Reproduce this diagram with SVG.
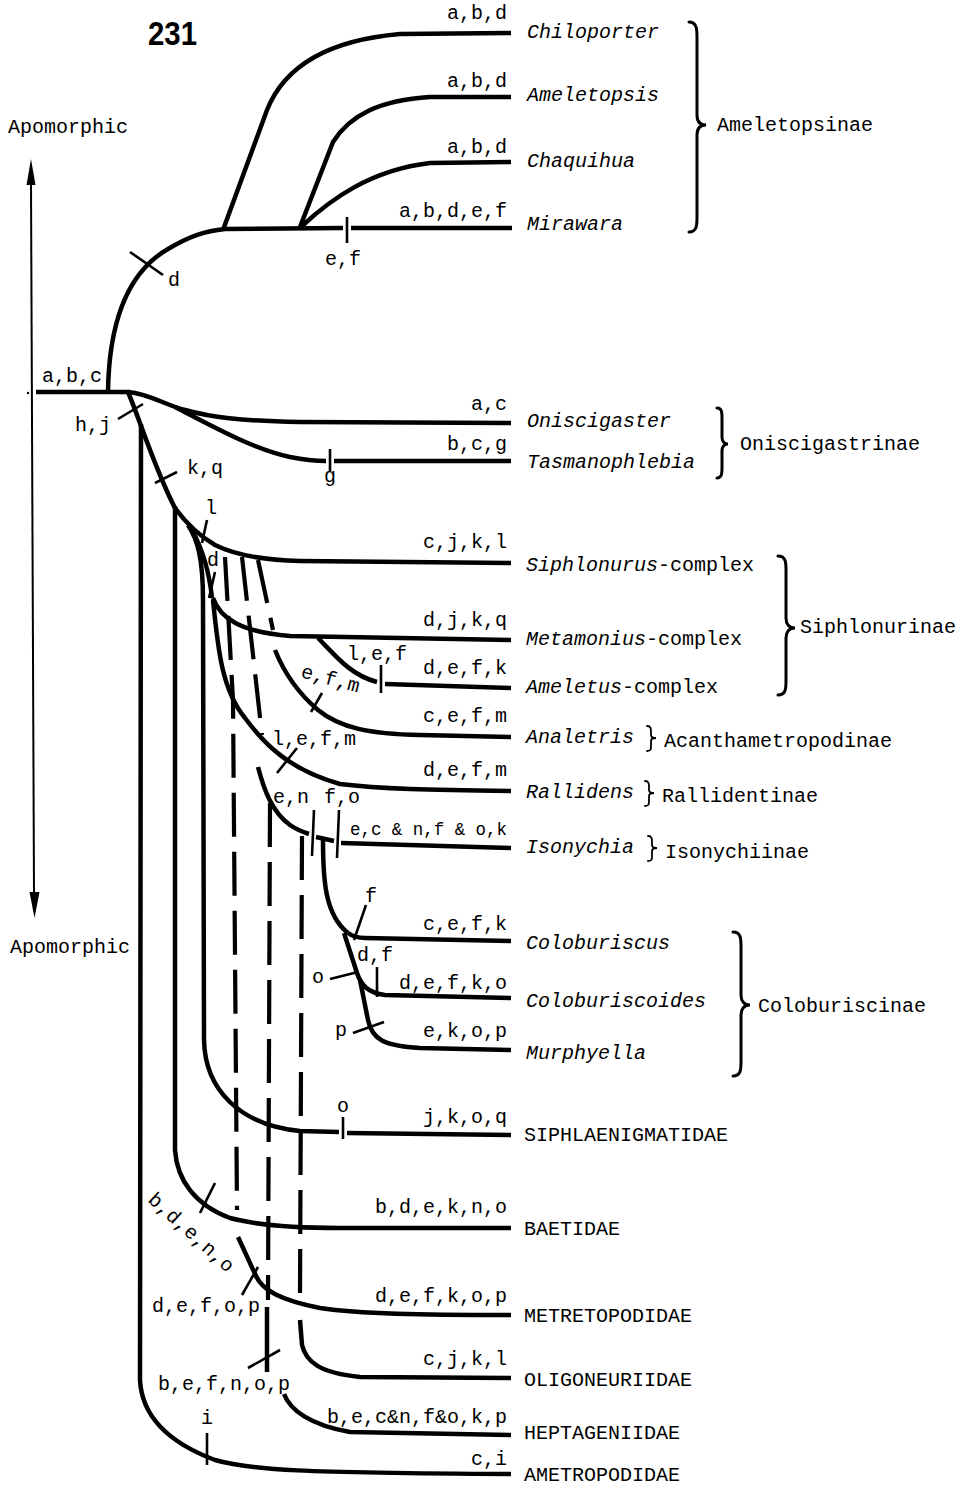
<svg xmlns="http://www.w3.org/2000/svg" width="968" height="1487" viewBox="0 0 968 1487">
<style>
text{font-family:"Liberation Mono","DejaVu Sans Mono",monospace;font-size:20px;fill:#000}
.it{font-style:italic}
.ch{text-anchor:end}
.mid{text-anchor:middle}
.br{fill:none;stroke:#000;stroke-width:3;stroke-linecap:round}
.brs{fill:none;stroke:#000;stroke-width:1.8;stroke-linecap:round}
.ln{fill:none;stroke:#000;stroke-width:4.5;stroke-linecap:butt}
.ds{fill:none;stroke:#000;stroke-width:4.2;stroke-dasharray:44 15}
.tk{fill:none;stroke:#000;stroke-width:2.6}
</style>
<rect width="968" height="1487" fill="#fff"/>

<g id="title">
<text x="148" y="45" style="font-family:'Liberation Sans',Arial,sans-serif;font-weight:bold;font-size:34px" textLength="49" lengthAdjust="spacingAndGlyphs">231</text>
</g>

<g id="axis">
<line x1="31" y1="183" x2="34" y2="893" stroke="#000" stroke-width="2"/>
<path d="M31,159 L26.5,185 L35.5,185 Z" fill="#000"/>
<path d="M34.5,918 L29.5,892 L39.5,892 Z" fill="#000"/>
<text x="8" y="133">Apomorphic</text>
<text x="10" y="953">Apomorphic</text>
</g>

<g id="connectors">
<circle cx="28" cy="393" r="1.2" fill="#000"/>
<path class="ln" d="M36,392 L130,392"/>
<!-- Ameletopsinae -->
<path class="ln" d="M108,392 C109,320 128,272 168,249 C190,236 205,231 225,229 L343,228 M351,228 L512,228"/>
<path class="ln" d="M223,230 L267,110 C285,65 330,40 400,34 L511,33"/>
<path class="ln" d="M300,227 L333,142 C350,115 380,100 430,97 L511,97"/>
<path class="ln" d="M302,226 C330,200 370,170 430,163 L511,162"/>
<path class="tk" d="M130,252 L163,275"/>
<path class="tk" d="M347,217 L347,243"/>
<!-- Oniscigastrinae -->
<path class="ln" d="M128,392 C150,394 165,405 185,410 C210,417 240,421 300,422 L511,423"/>
<path class="ln" d="M175,407 C210,425 250,448 290,457 C305,460 315,461 326,461 M334,461 L511,461"/>
<path class="tk" d="M330,449 L330,472"/>
<!-- main diagonal -->
<path class="ln" d="M128,392 C140,420 155,470 176,510"/>
<path class="tk" d="M118,419 L143,404"/>
<path class="tk" d="M155,483 L177,472"/>
<!-- AMETROPODIDAE -->
<path class="ln" d="M141,424 L140,1380 C142,1420 175,1445 215,1460 C250,1470 300,1473 511,1474"/>
<path class="tk" d="M207,1433 L207,1465"/>
<!-- BAETIDAE -->
<path class="ln" d="M175,506 L175,1150 C177,1180 195,1205 230,1218 C260,1226 300,1228 340,1228 L511,1228"/>
<path class="tk" d="M215,1183 L200,1213"/>
<!-- Siphlonurus -->
<path class="ln" d="M175,508 C185,522 198,535 215,545 C235,555 260,560 300,561 L511,563"/>
<path class="tk" d="M207,520 L202,543"/>
<!-- SIPHLAENIGMATIDAE -->
<path class="ln" d="M188,525 C198,540 203,560 203,600 L204,1040 C205,1090 240,1125 300,1131 L339,1132 M347,1133 L511,1135"/>
<path class="tk" d="M343,1117 L343,1139"/>
<!-- d branch -->
<path class="ln" d="M192,530 C203,550 209,570 212,598"/>
<path class="tk" d="M215,572 L209,598"/>
<!-- Metamonius -->
<path class="ln" d="M213,598 C220,618 240,632 290,636 L511,640"/>
<!-- Ameletus -->
<path class="ln" d="M318,638 C335,655 350,675 377,682 M385,684 L511,688"/>
<path class="tk" d="M381,665 L381,693"/>
<!-- Rallidens -->
<path class="ln" d="M213,600 C218,650 222,690 245,718 C265,745 290,770 340,784 C380,789 430,790 511,791"/>
<path class="tk" d="M297,748 L277,773"/>
<!-- dashed from Siphlonurus line -->
<path class="ds" d="M225,557 L233,700 L237,1210"/>
<path class="ds" d="M242,557 L262,735"/>
<path class="ds" d="M258,560 L273,630"/>
<!-- Analetris -->
<path class="ln" d="M275,650 C285,675 298,693 318,710 C340,728 370,734 420,735 L511,737"/>
<path class="tk" d="M322,693 L311,712"/>
<!-- Isonychia -->
<path class="ln" d="M258,767 C264,790 272,812 290,825 C297,830 303,832 309,834 M316,837 L334,841 M341,843 L511,848"/>
<path class="tk" d="M314,810 L312,856"/>
<path class="tk" d="M339,810 L337,858"/>
<!-- lower dashed lines -->
<path class="ds" d="M270,803 L268,1300"/>
<path class="ln" d="M267,1307 L267,1372"/>
<path class="ln" d="M284,1394 C290,1410 310,1425 350,1432 L511,1435"/>
<path class="tk" d="M280,1350 L248,1368"/>
<path class="ds" d="M302,836 L300,1295"/>
<path class="ln" d="M300,1320 L302,1345 C306,1362 320,1373 360,1377 L511,1378"/>
<!-- METRETOPODIDAE -->
<path class="ln" d="M238,1237 L256,1276 C262,1290 280,1300 320,1308 C360,1314 420,1315 511,1315"/>
<path class="tk" d="M258,1267 L242,1295"/>
<!-- Coloburiscinae -->
<path class="ln" d="M323,840 C323,880 325,915 348,933"/>
<path class="ln" d="M348,933 C352,936 356,938 365,938 L511,941"/>
<path class="tk" d="M366,905 L354,940"/>
<path class="ln" d="M344,933 L357,973 C361,985 368,993 385,995 L511,998"/>
<path class="tk" d="M330,979 L358,972"/>
<path class="tk" d="M377,967 L377,997"/>
<path class="ln" d="M360,980 L368,1020 C372,1040 385,1046 420,1048 L511,1050"/>
<path class="tk" d="M353,1033 L384,1022"/>
</g>

<g id="tick-labels">
<text x="42" y="382">a,b,c</text>
<text x="75" y="431">h,j</text>
<text x="168" y="286">d</text>
<text class="mid" x="343" y="265">e,f</text>
<text class="mid" x="330" y="482">g</text>
<text x="187" y="474">k,q</text>
<text class="mid" x="211" y="514">l</text>
<text class="mid" x="213" y="566">d</text>
<text x="347" y="660">l,e,f</text>
<text x="300" y="677" transform="rotate(15 300 677)">e,f,m</text>
<text x="272" y="745">l,e,f,m</text>
<text x="273" y="803">e,n</text>
<text x="324" y="803">f,o</text>
<text class="mid" x="371" y="902">f</text>
<text x="357" y="961">d,f</text>
<text class="mid" x="318" y="983">o</text>
<text class="mid" x="341" y="1036">p</text>
<text class="mid" x="343" y="1112">o</text>
<text x="147" y="1201" transform="rotate(42 147 1201)">b,d,e,n,o</text>
<text x="152" y="1312">d,e,f,o,p</text>
<text x="158" y="1390">b,e,f,n,o,p</text>
<text class="mid" x="207" y="1424">i</text>
</g>

<g id="Chiloporter"><text class="ch" x="507" y="19">a,b,d</text><text class="it" x="527" y="38">Chiloporter</text></g>
<g id="Ameletopsis"><text class="ch" x="507" y="87">a,b,d</text><text class="it" x="527" y="101">Ameletopsis</text></g>
<g id="Chaquihua"><text class="ch" x="507" y="153">a,b,d</text><text class="it" x="527" y="167">Chaquihua</text></g>
<g id="Mirawara"><text class="ch" x="507" y="217">a,b,d,e,f</text><text class="it" x="527" y="230">Mirawara</text></g>
<g id="Ameletopsinae">
<path class="br" d="M689,22 C697,22 697,30 697,37 L697,115 C697,122 700,125 706,125 C700,125 697,128 697,135 L697,217 C697,225 697,232 689,232"/>
<text x="717" y="131">Ameletopsinae</text>
</g>
<g id="Oniscigaster"><text class="ch" x="507" y="410">a,c</text><text class="it" x="527" y="427">Oniscigaster</text></g>
<g id="Tasmanophlebia"><text class="ch" x="507" y="450">b,c,g</text><text class="it" x="527" y="468">Tasmanophlebia</text></g>
<g id="Oniscigastrinae">
<path class="br" d="M717,408 C722,408 722,413 722,418 L722,437 C722,441 724,444 728,444 C724,444 722,447 722,451 L722,468 C722,473 722,478 717,478"/>
<text x="740" y="450">Oniscigastrinae</text>
</g>
<g id="Siphlonurus-complex"><text class="ch" x="507" y="548">c,j,k,l</text><text x="526" y="571"><tspan class="it">Siphlonurus</tspan>-complex</text></g>
<g id="Metamonius-complex"><text class="ch" x="507" y="626">d,j,k,q</text><text x="526" y="645"><tspan class="it">Metamonius</tspan>-complex</text></g>
<g id="Ameletus-complex"><text class="ch" x="507" y="674">d,e,f,k</text><text x="526" y="693"><tspan class="it">Ameletus</tspan>-complex</text></g>
<g id="Siphlonurinae">
<path class="br" d="M778,556 C786,556 786,563 786,570 L786,618 C786,624 789,628 795,628 C789,628 786,632 786,638 L786,681 C786,688 786,695 778,695"/>
<text x="800" y="633">Siphlonurinae</text>
</g>
<g id="Analetris"><text class="ch" x="507" y="722">c,e,f,m</text><text class="it" x="526" y="743">Analetris</text>
<path class="brs" d="M647,726 C651,726 651,729 651,732 L651,735 C651,737 653,738 656,738 C653,738 651,739 651,741 L651,746 C651,749 651,751 647,751"/>
<text x="664" y="747">Acanthametropodinae</text></g>
<g id="Rallidens"><text class="ch" x="507" y="776">d,e,f,m</text><text class="it" x="526" y="798">Rallidens</text>
<path class="brs" d="M645,781 C649,781 649,784 649,787 L649,790 C649,792 651,793 654,793 C651,793 649,794 649,796 L649,801 C649,804 649,806 645,806"/>
<text x="662" y="802">Rallidentinae</text></g>
<g id="Isonychia"><text class="ch" x="507" y="835" style="font-size:19px" textLength="157" lengthAdjust="spacingAndGlyphs">e,c &amp; n,f &amp; o,k</text><text class="it" x="526" y="853">Isonychia</text>
<path class="brs" d="M648,836 C652,836 652,839 652,842 L652,845 C652,847 654,848 657,848 C654,848 652,849 652,851 L652,856 C652,859 652,861 648,861"/>
<text x="665" y="858">Isonychiinae</text></g>
<g id="Coloburiscus"><text class="ch" x="507" y="930">c,e,f,k</text><text class="it" x="526" y="949">Coloburiscus</text></g>
<g id="Coloburiscoides"><text class="ch" x="507" y="989">d,e,f,k,o</text><text class="it" x="526" y="1007">Coloburiscoides</text></g>
<g id="Murphyella"><text class="ch" x="507" y="1037">e,k,o,p</text><text class="it" x="526" y="1059">Murphyella</text></g>
<g id="Coloburiscinae">
<path class="br" d="M733,932 C741,932 741,939 741,946 L741,995 C741,1001 744,1005 750,1005 C744,1005 741,1009 741,1015 L741,1062 C741,1069 741,1076 733,1076"/>
<text x="758" y="1012">Coloburiscinae</text>
</g>
<g id="SIPHLAENIGMATIDAE"><text class="ch" x="507" y="1123">j,k,o,q</text><text x="524" y="1141">SIPHLAENIGMATIDAE</text></g>
<g id="BAETIDAE"><text class="ch" x="507" y="1213">b,d,e,k,n,o</text><text x="524" y="1235">BAETIDAE</text></g>
<g id="METRETOPODIDAE"><text class="ch" x="507" y="1302">d,e,f,k,o,p</text><text x="524" y="1322">METRETOPODIDAE</text></g>
<g id="OLIGONEURIIDAE"><text class="ch" x="507" y="1365">c,j,k,l</text><text x="524" y="1386">OLIGONEURIIDAE</text></g>
<g id="HEPTAGENIIDAE"><text class="ch" x="507" y="1423">b,e,c&amp;n,f&amp;o,k,p</text><text x="524" y="1439">HEPTAGENIIDAE</text></g>
<g id="AMETROPODIDAE"><text class="ch" x="507" y="1465">c,i</text><text x="524" y="1481">AMETROPODIDAE</text></g>
</svg>
